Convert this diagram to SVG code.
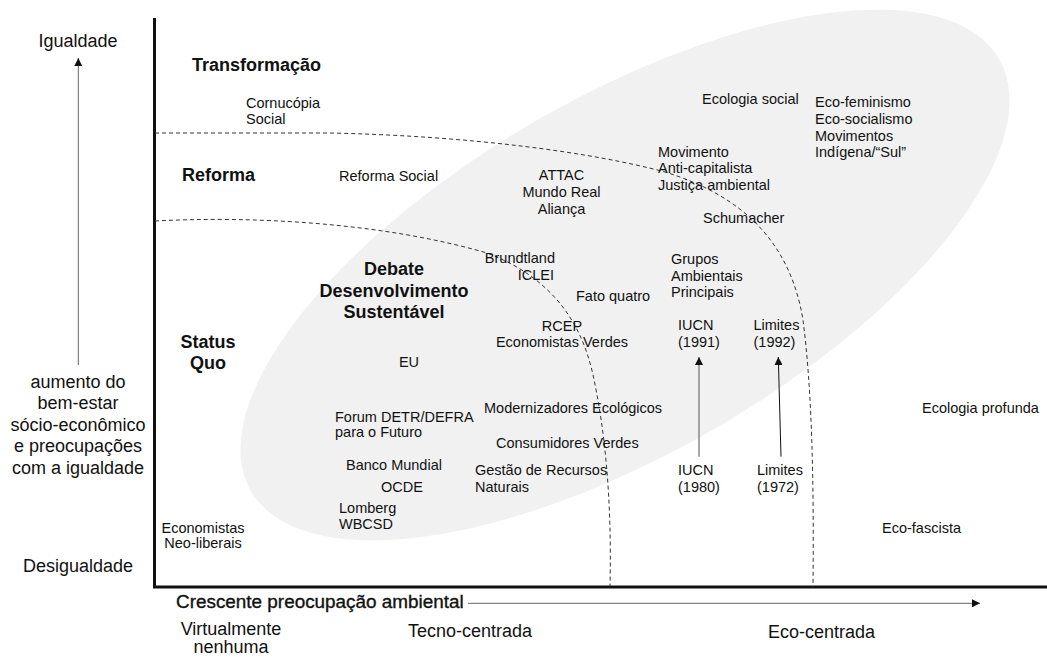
<svg xmlns="http://www.w3.org/2000/svg" width="1047" height="657" viewBox="0 0 1047 657">
<style>
text{font-family:"Liberation Sans",Arial,Helvetica,sans-serif;fill:#111;}
.ax{font-size:18px;}
.b{font-size:18px;font-weight:bold;}
.l{font-size:14.5px;}
.m{text-anchor:middle;}
.e{text-anchor:end;}
.dash{fill:none;stroke:#333;stroke-width:1;stroke-dasharray:4 3;}
.axis{fill:none;stroke:#111;stroke-width:3;}
</style>
<defs>
<marker id="ah" markerUnits="userSpaceOnUse" markerWidth="8" markerHeight="8" refX="8" refY="4" orient="auto">
<path d="M0,0 L8,4 L0,8 z" fill="#111"/>
</marker>
</defs>
<rect width="1047" height="657" fill="#fff"/>
<ellipse id="sd-region" cx="625" cy="275" rx="432" ry="178" transform="rotate(-30 625 275)" fill="#f1f1f1"/>
<g id="axes">
<path class="axis" d="M154.5,18 L154.5,587 L1047,587"/>
</g>
<g id="connectors">
<path class="dash" d="M155,133 L330,133 C470,136 590,152 665,172 C740,195 790,240 803,320 C812,390 814,480 813,587"/>
<path class="dash" d="M155,221 C250,216 380,222 487,253 C545,275 580,315 593,375 C605,430 612,500 610,587"/>
<line x1="78.3" y1="365" x2="78.3" y2="58" stroke="#666" stroke-width="1" marker-end="url(#ah)"/>
<line x1="699" y1="456.7" x2="699" y2="357" stroke="#888" stroke-width="1.5" marker-end="url(#ah)"/>
<line x1="781" y1="456.7" x2="778.3" y2="357" stroke="#111" stroke-width="1" marker-end="url(#ah)"/>
<line x1="468" y1="603.3" x2="980" y2="603.3" stroke="#666" stroke-width="1" marker-end="url(#ah)"/>
</g>
<g id="axis-labels">
<text class="ax m" x="78" y="46.7">Igualdade</text>
<text class="ax m" x="78" y="387.7">aumento do</text>
<text class="ax m" x="78" y="409">bem-estar</text>
<text class="ax m" x="78" y="430.5">sócio-econômico</text>
<text class="ax m" x="78" y="452">e preocupações</text>
<text class="ax m" x="78" y="473.5">com a igualdade</text>
<text class="ax m" x="78" y="572.3">Desigualdade</text>
<text class="ax" x="176" y="608.3" style="font-size:18.9px;stroke:#111;stroke-width:0.35">Crescente preocupação ambiental</text>
<text class="ax m" x="231" y="635">Virtualmente</text>
<text class="ax m" x="231" y="653">nenhuma</text>
<text class="ax" x="408" y="636.7">Tecno-centrada</text>
<text class="ax" x="768" y="638.3">Eco-centrada</text>
</g>
<g id="band-transformacao"><text class="b" x="192" y="70.7">Transformação</text></g>
<g id="band-reforma"><text class="b" x="182" y="180.7">Reforma</text></g>
<g id="band-statusquo"><text class="b m" x="208" y="347.5">Status</text><text class="b m" x="208" y="369">Quo</text></g>
<g id="debate"><text class="b m" x="394" y="275">Debate</text><text class="b m" x="394" y="296.7">Desenvolvimento</text><text class="b m" x="394" y="318.3">Sustentável</text></g>
<g id="cornucopia"><text class="l" x="246" y="108.3">Cornucópia</text><text class="l" x="246" y="124.3">Social</text></g>
<g id="reforma-social"><text class="l" x="339" y="181">Reforma Social</text></g>
<g id="attac"><text class="l m" x="561.5" y="180">ATTAC</text><text class="l m" x="561.5" y="197">Mundo Real</text><text class="l m" x="561.5" y="213.5">Aliança</text></g>
<g id="ecologia-social"><text class="l" x="702" y="104">Ecologia social</text></g>
<g id="eco-feminismo"><text class="l" x="815" y="107.3">Eco-feminismo</text><text class="l" x="815" y="124">Eco-socialismo</text><text class="l" x="815" y="140.7">Movimentos</text><text class="l" x="815" y="157.3">Indígena/“Sul”</text></g>
<g id="movimento"><text class="l" x="658" y="156.7">Movimento</text><text class="l" x="658" y="173.3">Anti-capitalista</text><text class="l" x="658" y="190">Justiça ambiental</text></g>
<g id="schumacher"><text class="l" x="703" y="223.3">Schumacher</text></g>
<g id="brundtland"><text class="l e" x="555" y="263.3">Brundtland</text><text class="l e" x="554" y="280">ICLEI</text></g>
<g id="grupos"><text class="l" x="671" y="264">Grupos</text><text class="l" x="671" y="280.7">Ambientais</text><text class="l" x="671" y="297.3">Principais</text></g>
<g id="fato-quatro"><text class="l" x="576" y="300.7">Fato quatro</text></g>
<g id="rcep"><text class="l m" x="562" y="330.7">RCEP</text><text class="l m" x="562" y="346.7">Economistas Verdes</text></g>
<g id="iucn-1991"><text class="l" x="678" y="330">IUCN</text><text class="l" x="678" y="346.7">(1991)</text></g>
<g id="limites-1992"><text class="l" x="753.5" y="330">Limites</text><text class="l" x="753.5" y="346.7">(1992)</text></g>
<g id="eu"><text class="l m" x="409" y="366.7">EU</text></g>
<g id="modernizadores"><text class="l" x="484" y="413.3">Modernizadores Ecológicos</text></g>
<g id="forum"><text class="l" x="335" y="422.3">Forum DETR/DEFRA</text><text class="l" x="335" y="437.3">para o Futuro</text></g>
<g id="consumidores"><text class="l" x="496" y="448.3">Consumidores Verdes</text></g>
<g id="banco-mundial"><text class="l" x="346" y="470">Banco Mundial</text></g>
<g id="gestao"><text class="l" x="475" y="474.5">Gestão de Recursos</text><text class="l" x="475" y="491.7">Naturais</text></g>
<g id="ocde"><text class="l" x="381" y="491.7">OCDE</text></g>
<g id="lomberg"><text class="l" x="339" y="513.3">Lomberg</text><text class="l" x="339" y="529.3">WBCSD</text></g>
<g id="neoliberais"><text class="l m" x="203" y="532.7">Economistas</text><text class="l m" x="203" y="548.3">Neo-liberais</text></g>
<g id="iucn-1980"><text class="l" x="678" y="475">IUCN</text><text class="l" x="678" y="491.7">(1980)</text></g>
<g id="limites-1972"><text class="l" x="757" y="475">Limites</text><text class="l" x="757" y="491.7">(1972)</text></g>
<g id="ecologia-profunda"><text class="l" x="922" y="413.3">Ecologia profunda</text></g>
<g id="eco-fascista"><text class="l" x="882" y="533.3">Eco-fascista</text></g>
</svg>
